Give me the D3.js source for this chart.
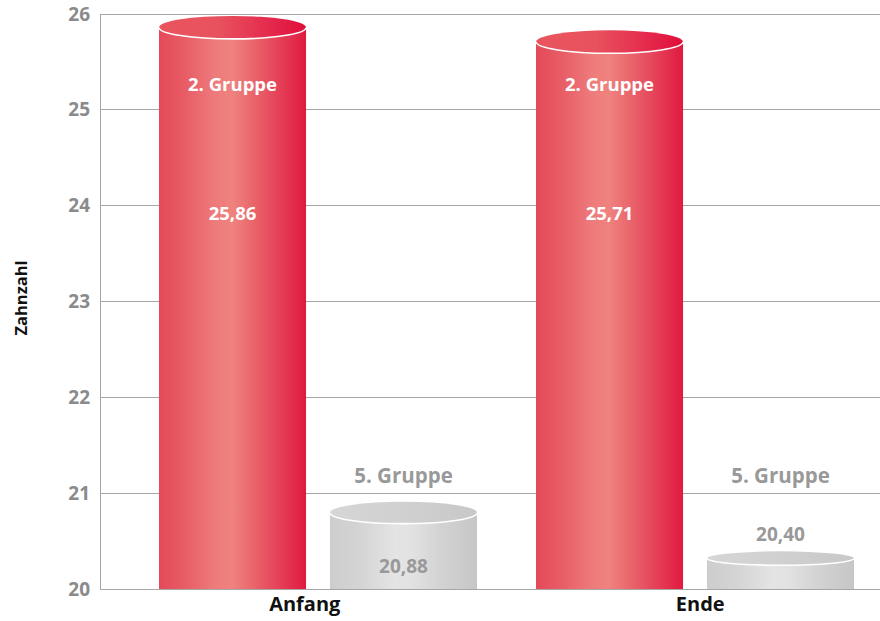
<!DOCTYPE html>
<html><head><meta charset="utf-8">
<script src="https://cdn.jsdelivr.net/npm/d3@7"></script>
<style>
body{margin:0;background:#fff;}
svg{display:block;font-family:"Open Sans",sans-serif;}
</style></head>
<body><svg id="c" width="880" height="621"></svg>
<script>
const categories = ["Anfang", "Ende"];
const seriesNames = ["2. Gruppe", "5. Gruppe"];
const gruppe2 = [25.86, 25.71];
const gruppe5 = [20.88, 20.40];
const yTicks = [20, 21, 22, 23, 24, 25, 26];
const yTitle = "Zahnzahl";

const fmt = v => d3.format(".2f")(v).replace(".", ",");
const svg = d3.select("#c");
const W = 880, H = 621;
const y = d3.scaleLinear().domain([20, 26]).range([589, 14]);
const x0 = d3.scaleBand().domain(categories).range([129.5, 883.5]);
const x1 = d3.scaleBand().domain(seriesNames).range([0, x0.bandwidth()])
  .paddingInner(0.14).paddingOuter(0.1725);
const xLab = d3.scaleBand().domain(categories).range([107, 898]);

const defs = svg.append("defs");
function grad(id, stops) {
  const g = defs.append("linearGradient").attr("id", id)
    .attr("x1", "0%").attr("x2", "100%").attr("y1", "0%").attr("y2", "0%");
  stops.forEach(s => g.append("stop").attr("offset", s[0]).attr("stop-color", s[1]));
}
grad("redBody", [["0%", "#e44a59"], ["18%", "#e85d66"], ["38%", "#ee7b7b"], ["50%", "#ef827e"], ["62%", "#ea6a6e"], ["80%", "#e5445a"], ["100%", "#e11a40"]]);
grad("redTop", [["0%", "#e9555f"], ["40%", "#e8525e"], ["70%", "#e53050"], ["100%", "#df0e3a"]]);
grad("grayBody", [["0%", "#cdcdcd"], ["20%", "#d4d4d4"], ["45%", "#e4e4e4"], ["55%", "#e2e2e2"], ["75%", "#d3d3d3"], ["100%", "#c6c6c6"]]);
grad("grayTop", [["0%", "#d6d6d6"], ["50%", "#d0d0d0"], ["100%", "#c8c8c8"]]);

// gridlines
svg.append("g").selectAll("line").data(yTicks).join("line")
  .attr("x1", 100).attr("x2", W).attr("y1", d => y(d)).attr("y2", d => y(d))
  .attr("stroke", "#a6a6a6").attr("stroke-width", 1).attr("shape-rendering", "crispEdges");

// y axis
const yAxis = d3.axisLeft(y).tickValues(yTicks).tickSize(0).tickPadding(10).tickFormat(d3.format("d"));
const gy = svg.append("g").attr("transform", "translate(100,0)").call(yAxis);
gy.select(".domain").attr("stroke", "#a6a6a6").attr("shape-rendering", "crispEdges");
gy.selectAll("text").attr("fill", "#8a8a8a").attr("font-size", 19).attr("font-weight", 700)
  .attr("font-family", "'Open Sans',sans-serif");

// x axis labels
const xAxis = d3.axisBottom(xLab).tickSize(0).tickPadding(8);
const gx = svg.append("g").attr("transform", "translate(0,589)").call(xAxis);
gx.select(".domain").remove();
gx.selectAll("text").attr("fill", "#111").attr("font-size", 20).attr("font-weight", 700)
  .attr("font-family", "'Open Sans',sans-serif");

svg.append("text").attr("transform", "translate(27,298) rotate(-90)")
  .attr("text-anchor", "middle").attr("font-size", 16.5).attr("font-weight", 700)
  .attr("fill", "#111").text(yTitle);

const base = y(20);
function cylinder(g, cx, w, yc, ry, body, top) {
  g.append("rect").attr("x", cx - w / 2).attr("y", yc).attr("width", w)
    .attr("height", base - yc).attr("fill", `url(#${body})`);
  g.append("ellipse").attr("cx", cx).attr("cy", yc).attr("rx", w / 2).attr("ry", ry)
    .attr("fill", `url(#${top})`);
  g.append("path")
    .attr("d", `M${cx - w / 2},${yc} A${w / 2},${ry} 0 0 0 ${cx + w / 2},${yc}`)
    .attr("fill", "none").attr("stroke", "#fff").attr("stroke-width", 1.6);
}

categories.forEach((cat, i) => {
  const g = svg.append("g");
  const w = x1.bandwidth();
  // 2. Gruppe
  const cxR = x0(cat) + x1(seriesNames[0]) + w / 2;
  const ycR = y(gruppe2[i]);
  cylinder(g, cxR, w, ycR, 11.5, "redBody", "redTop");
  g.append("text").attr("x", cxR).attr("y", y(25.26)).attr("dy", "0.35em")
    .attr("text-anchor", "middle").attr("fill", "#fff").attr("font-size", 18.5)
    .attr("font-weight", 700).text(seriesNames[0]);
  g.append("text").attr("x", cxR).attr("y", y(23.92)).attr("dy", "0.35em")
    .attr("text-anchor", "middle").attr("fill", "#fff").attr("font-size", 18.5)
    .attr("font-weight", 700).text(fmt(gruppe2[i]));
  // 5. Gruppe
  const cxG = x0(cat) + x1(seriesNames[1]) + w / 2;
  const h = base - y(gruppe5[i]);
  const ryG = Math.min(11, h / 5.5);
  const ycG = y(gruppe5[i]) + Math.min(8, h / 5);
  cylinder(g, cxG, w, ycG, ryG, "grayBody", "grayTop");
  g.append("text").attr("x", cxG).attr("y", y(21.18)).attr("dy", "0.35em")
    .attr("text-anchor", "middle").attr("fill", "#999").attr("font-size", 20.5)
    .attr("font-weight", 700).text(seriesNames[1]);
  const inside = h > 60;
  g.append("text").attr("x", cxG).attr("y", inside ? base - 23 : ycG - ryG - 17).attr("dy", "0.35em")
    .attr("text-anchor", "middle").attr("fill", "#999").attr("font-size", 19)
    .attr("font-weight", 700).text(fmt(gruppe5[i]));
});
</script></body></html>
